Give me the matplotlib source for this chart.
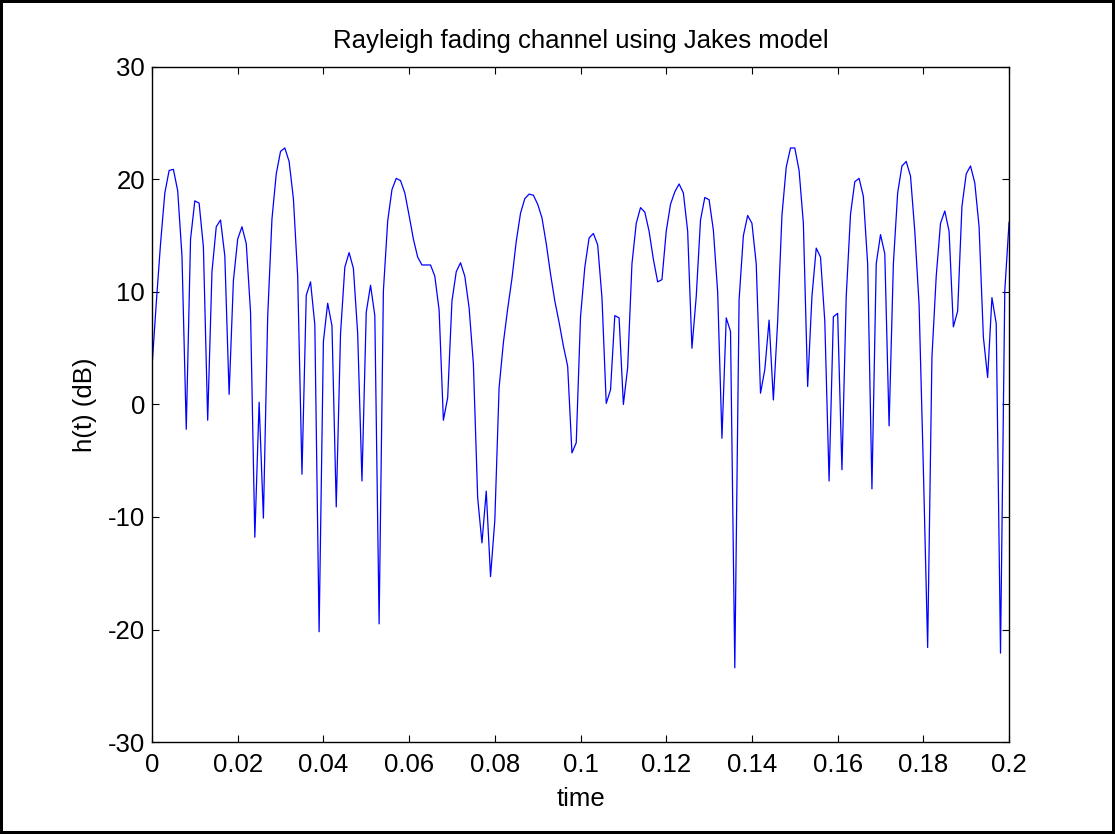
import numpy as np
import matplotlib
matplotlib.use("Agg")
import matplotlib.pyplot as plt

plt.rcParams['font.family'] = ['Liberation Sans', 'DejaVu Sans']
plt.rcParams['axes.unicode_minus'] = False

# time axis: one sample per millisecond, 0 .. 0.2 s
t_start = 0.0
t_step = 0.001

# channel gain in dB
h_db = [
    3.3, 9.0, 14.3, 18.8, 20.8, 20.9, 19.0, 13.2, -2.2, 14.7,
    18.1, 17.9, 14.0, -1.4, 11.8, 15.8, 16.4, 13.2, 0.9, 11.0,
    14.7, 15.8, 14.3, 8.2, -11.8, 0.2, -10.1, 7.8, 16.5, 20.5,
    22.5, 22.8, 21.6, 18.3, 11.4, -6.2, 9.7, 10.9, 7.1, -20.2,
    5.6, 9.0, 7.0, -9.1, 6.3, 12.2, 13.5, 12.1, 6.3, -6.8,
    8.2, 10.6, 7.9, -19.5, 10.1, 16.3, 19.1, 20.1, 19.9, 18.8,
    16.8, 14.7, 13.1, 12.4, 12.4, 12.4, 11.4, 8.4, -1.4, 0.6,
    9.2, 11.8, 12.6, 11.4, 8.6, 3.6, -8.3, -12.3, -7.7, -15.3,
    -10.3, 1.5, 5.5, 8.5, 11.2, 14.5, 17.0, 18.3, 18.7, 18.6,
    17.8, 16.6, 14.3, 11.6, 9.2, 7.3, 5.2, 3.4, -4.3, -3.4,
    7.8, 12.2, 14.8, 15.2, 14.2, 9.5, 0.1, 1.3, 7.9, 7.7,
    0.0, 3.3, 12.5, 16.1, 17.5, 17.1, 15.4, 12.9, 10.9, 11.1,
    15.4, 17.8, 18.9, 19.6, 18.8, 15.4, 5.0, 9.6, 16.4, 18.4,
    18.2, 15.5, 10.0, -3.0, 7.7, 6.5, -23.4, 9.3, 15.0, 16.8,
    16.1, 12.5, 1.0, 3.1, 7.5, 0.4, 7.4, 16.8, 21.1, 22.8,
    22.8, 20.8, 16.1, 1.6, 9.6, 13.9, 13.1, 7.4, -6.8, 7.8,
    8.1, -5.8, 9.6, 16.9, 19.8, 20.1, 18.5, 12.5, -7.5, 12.5,
    15.1, 13.4, -1.9, 12.5, 18.8, 21.2, 21.6, 20.3, 15.4, 8.9,
    -5.7, -21.6, 4.2, 11.4, 16.1, 17.2, 15.4, 6.9, 8.3, 17.6,
    20.5, 21.2, 19.7, 15.8, 6.0, 2.4, 9.5, 7.2, -22.1, 10.1,
    16.2,
]

x_ticks = [0, 0.02, 0.04, 0.06, 0.08, 0.1, 0.12, 0.14, 0.16, 0.18, 0.2]
x_tick_labels = ['0', '0.02', '0.04', '0.06', '0.08', '0.1', '0.12', '0.14', '0.16', '0.18', '0.2']
y_ticks = [-30, -20, -10, 0, 10, 20, 30]

t = t_start + t_step * np.arange(len(h_db))

fig = plt.figure(figsize=(11.15, 8.34), dpi=100)
fig.patch.set_edgecolor('black')
fig.patch.set_linewidth(3)
ax = fig.add_axes([0.1363, 0.1103, 0.7687, 0.8094])

ax.plot(t, h_db, color=(0, 0, 1), linewidth=0.9)

ax.set_xlim(0, 0.2)
ax.set_ylim(-30, 30)
ax.set_xticks(x_ticks)
ax.set_xticklabels(x_tick_labels)
ax.set_yticks(y_ticks)
ax.tick_params(direction='in', length=5, width=0.8, labelsize=18.5,
               top=True, right=True)
ax.tick_params(axis='x', pad=8)
ax.tick_params(axis='y', pad=5)
for s in ax.spines.values():
    s.set_linewidth(1.0)

ax.set_title('Rayleigh fading channel using Jakes model', fontsize=18.5, pad=14)
ax.set_xlabel('time', fontsize=18.5, labelpad=7)
ax.set_ylabel('h(t) (dB)', fontsize=18.5, labelpad=8)

fig.savefig('out.png', dpi=100, edgecolor=fig.get_edgecolor())
